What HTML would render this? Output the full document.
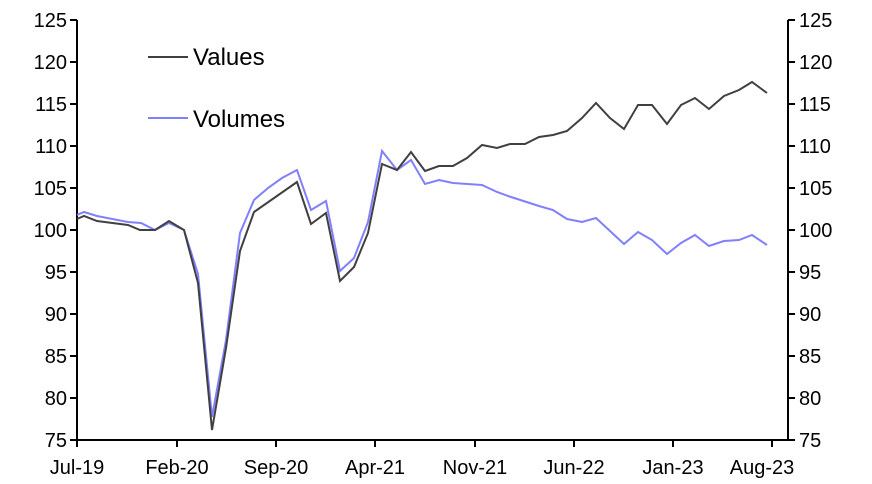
<!DOCTYPE html><html><head><style>body{margin:0;background:#fff}svg{display:block;font-family:"Liberation Sans",Arial,sans-serif}</style></head><body>
<svg width="872" height="484" viewBox="0 0 872 484">
<g stroke="#000" stroke-width="2" fill="none">
<line x1="77" y1="20" x2="77" y2="441"/><line x1="788" y1="20" x2="788" y2="441"/><line x1="76" y1="440" x2="789" y2="440"/>
<path d="M70 20H77M70 62H77M70 104H77M70 146H77M70 188H77M70 230H77M70 272H77M70 314H77M70 356H77M70 398H77M70 440H77"/>
<path d="M788 20H795M788 62H795M788 104H795M788 146H795M788 188H795M788 230H795M788 272H795M788 314H795M788 356H795M788 398H795M788 440H795"/>
<path d="M77 440V447M177 440V447M276 440V447M375 440V447M475 440V447M574 440V447M673 440V447M772 440V447"/>
</g>
<g font-size="20" fill="#000" text-anchor="end">
<text x="67" y="27">125</text><text x="67" y="69">120</text><text x="67" y="111">115</text><text x="67" y="153">110</text><text x="67" y="195">105</text><text x="67" y="237">100</text><text x="67" y="279">95</text><text x="67" y="321">90</text><text x="67" y="363">85</text><text x="67" y="405">80</text><text x="67" y="447">75</text>
</g>
<g font-size="20" fill="#000" text-anchor="start">
<text x="799" y="27">125</text><text x="799" y="69">120</text><text x="799" y="111">115</text><text x="799" y="153">110</text><text x="799" y="195">105</text><text x="799" y="237">100</text><text x="799" y="279">95</text><text x="799" y="321">90</text><text x="799" y="363">85</text><text x="799" y="405">80</text><text x="799" y="447">75</text>
</g>
<g font-size="20" fill="#000" text-anchor="middle">
<text x="77" y="474">Jul-19</text><text x="177" y="474">Feb-20</text><text x="276" y="474">Sep-20</text><text x="375" y="474">Apr-21</text><text x="475" y="474">Nov-21</text><text x="574" y="474">Jun-22</text><text x="673" y="474">Jan-23</text><text x="762" y="474">Aug-23</text>
</g>
<polyline fill="none" stroke="#8080ff" stroke-width="2" points="77,215 84,212 97,216 128,222 141,223 155,230 169,223 184,230 198,274 212,417 226,340 240,233 254,200 268,188 282,178 297,170 311,210 326,201 340,271 354,258 368,222 382,151 397,170 411,160 425,184 439,180 453,183 482,185 497,192 511,197 539,206 553,210 567,219 582,222 596,218 624,244 638,232 652,240 667,254 681,243 695,235 709,246 724,241 739,240 752,235 767,245"/>
<polyline fill="none" stroke="#404040" stroke-width="2" points="77,219 84,216 97,221 128,225 140,230 155,230 169,221 184,230 198,283 212,430 226,348 240,251 254,212 297,182 311,224 326,213 340,281 354,267 368,233 382,164 397,170 411,152 425,171 439,166 453,166 467,158 482,145 497,148 510,144 525,144 539,137 553,135 567,131 582,118 596,103 610,118 624,129 638,105 652,105 667,124 681,105 695,98 709,109 724,96 739,90 752,82 767,93"/>
<line x1="148" y1="57" x2="188" y2="57" stroke="#404040" stroke-width="2"/>
<text x="193" y="65" font-size="24">Values</text>
<line x1="148" y1="118" x2="188" y2="118" stroke="#8080ff" stroke-width="2"/>
<text x="193" y="127" font-size="24">Volumes</text>
</svg></body></html>
